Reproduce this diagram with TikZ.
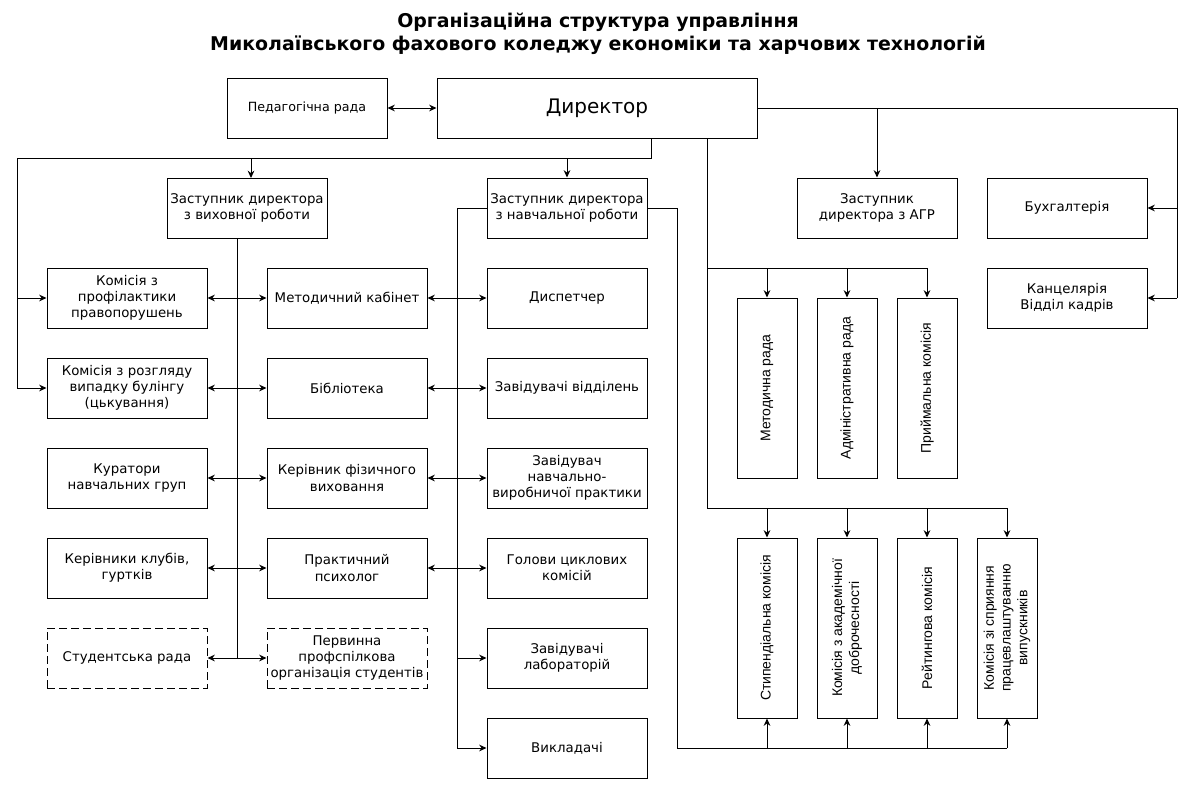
\documentclass[tikz,border=0pt]{standalone}
\usepackage{fontspec}
\setmainfont{DejaVu Sans}
\newfontfamily\rotfont{Liberation Sans}
\usetikzlibrary{arrows.meta}

\tikzset{
  box/.style={draw,line width=0.75pt,minimum width=120pt,minimum height=45pt,
    align=center,inner sep=1pt,font=\fontsize{10}{12.2}\selectfont},
  dbox/.style={box,dash pattern=on 6pt off 3pt},
  vbox/.style={draw,line width=0.75pt,rotate=90,minimum width=135pt,minimum height=45pt,
    align=center,inner sep=1pt,font=\rotfont\fontsize{10.5}{12.6}\selectfont},
  link/.style={line width=0.75pt,>={Stealth[length=5.5pt,width=5pt]}},
}

\begin{document}
\begin{tikzpicture}[x=0.75pt,y=-0.75pt]
  \useasboundingbox (0,0) rectangle (1196,789);

  \node[font=\bfseries\fontsize{14.2}{17.25}\selectfont,align=center] (title) at (598,34)
    {Організаційна структура управління\\Миколаївського фахового коледжу економіки та харчових технологій};

  % верхній рівень
  \node[box,font=\fontsize{9.5}{11.5}\selectfont] (ped) at (307,108) {Педагогічна рада};
  \node[box,minimum width=240pt,font=\fontsize{15}{18}\selectfont] (dir) at (597,108) {Директор};

  % заступники
  \node[box] (zvr) at (247,208) {Заступник директора\\з виховної роботи};
  \node[box] (znr) at (567,208) {Заступник директора\\з навчальної роботи};
  \node[box] (zagr) at (877,208) {Заступник\\директора з АГР};
  \node[box] (buh) at (1067,208) {Бухгалтерія};
  \node[box] (kanc) at (1067,298) {Канцелярія\\ Відділ кадрів};

  % ліва колонка
  \node[box] (kprof) at (127,298) {Комісія з\\профілактики\\правопорушень};
  \node[box] (kbul) at (127,388) {Комісія з розгляду\\випадку булінгу\\(цькування)};
  \node[box] (kur) at (127,478) {Куратори\\навчальних груп};
  \node[box] (kkl) at (127,568) {Керівники клубів,\\гуртків};
  \node[dbox] (srada) at (127,658) {Студентська рада};

  % середня колонка
  \node[box] (mkab) at (347,298) {Методичний кабінет};
  \node[box] (bibl) at (347,388) {Бібліотека};
  \node[box] (kfv) at (347,478) {Керівник фізичного\\виховання};
  \node[box] (psych) at (347,568) {Практичний\\психолог};
  \node[dbox] (prof) at (347,658) {Первинна\\профспілкова\\організація студентів};

  % третя колонка
  \node[box] (disp) at (567,298) {Диспетчер};
  \node[box] (zviddil) at (567,388) {Завідувачі відділень};
  \node[box] (zprakt) at (567,478) {Завідувач\\навчально-\\виробничої практики};
  \node[box] (gcikl) at (567,568) {Голови циклових\\комісій};
  \node[box] (zlab) at (567,658) {Завідувачі\\лабораторій};
  \node[box] (vykl) at (567,748) {Викладачі};

  % ради та комісії
  \node[vbox] (mrada) at (767,388) {Методична рада};
  \node[vbox] (arada) at (847,388) {Адміністративна рада};
  \node[vbox] (pkom) at (927,388) {Приймальна комісія};
  \node[vbox] (skom) at (767,628) {Стипендіальна комісія};
  \node[vbox] (adkom) at (847,628) {Комісія  з академічної\\доброчесності};
  \node[vbox] (rkom) at (927,628) {Рейтингова комісія};
  \node[vbox] (pvkom) at (1007,628) {Комісія зі сприяння\\працевлаштуванню\\випускників};

  % точки ліній
  \coordinate (tl) at (17,158);
  \coordinate (tr) at (651,158);
  \coordinate (vs) at (237,658);
  \coordinate (ns) at (457,748);
  \coordinate (rs) at (677,748);
  \coordinate (ub) at (707,268);
  \coordinate (ds) at (707,508);
  \coordinate (rt) at (1177,108);
  \coordinate (zv) at (251,178);

  \draw[link,<->] (ped) -- (dir);

  % директор -> заступники
  \draw[link] (tr |- dir.south) -- (tr) -- (tl) -- (tl |- kbul);
  \draw[link,->] (zv |- tl) -- (zv);
  \draw[link,->] (znr |- tl) -- (znr);
  \draw[link,->] (tl |- kprof) -- (kprof);
  \draw[link,->] (tl |- kbul) -- (kbul);

  \draw[link] (dir.east) -- (rt) -- (rt |- kanc);
  \draw[link,->] (dir.east -| zagr) -- (zagr);
  \draw[link,->] (rt |- buh) -- (buh);
  \draw[link,->] (rt |- kanc) -- (kanc);

  % виховна робота
  \draw[link] (vs |- zvr.south) -- (vs);
  \draw[link,<->] (kprof) -- (mkab);
  \draw[link,<->] (kbul) -- (bibl);
  \draw[link,<->] (kur) -- (kfv);
  \draw[link,<->] (kkl) -- (psych);
  \draw[link,<->] (srada) -- (prof);

  % навчальна робота
  \draw[link] (znr.west) -- (ns |- znr.west) -- (ns);
  \draw[link,<->] (mkab) -- (disp);
  \draw[link,<->] (bibl) -- (zviddil);
  \draw[link,<->] (kfv) -- (zprakt);
  \draw[link,<->] (psych) -- (gcikl);
  \draw[link,->] (ns |- zlab) -- (zlab);
  \draw[link,->] (ns) -- (vykl);

  \draw[link] (znr.east) -- (znr.east -| rs) -- (rs) -- (rs -| pvkom);
  \draw[link,->] (rs -| skom) -- (skom);
  \draw[link,->] (rs -| adkom) -- (adkom);
  \draw[link,->] (rs -| rkom) -- (rkom);
  \draw[link,->] (rs -| pvkom) -- (pvkom);

  % ради та комісії директора
  \draw[link] (ds |- dir.south) -- (ds) -- (ds -| pvkom);
  \draw[link] (ub) -- (ub -| pkom);
  \draw[link,->] (ub -| mrada) -- (mrada);
  \draw[link,->] (ub -| arada) -- (arada);
  \draw[link,->] (ub -| pkom) -- (pkom);
  \draw[link,->] (ds -| skom) -- (skom);
  \draw[link,->] (ds -| adkom) -- (adkom);
  \draw[link,->] (ds -| rkom) -- (rkom);
  \draw[link,->] (ds -| pvkom) -- (pvkom);
\end{tikzpicture}
\end{document}
